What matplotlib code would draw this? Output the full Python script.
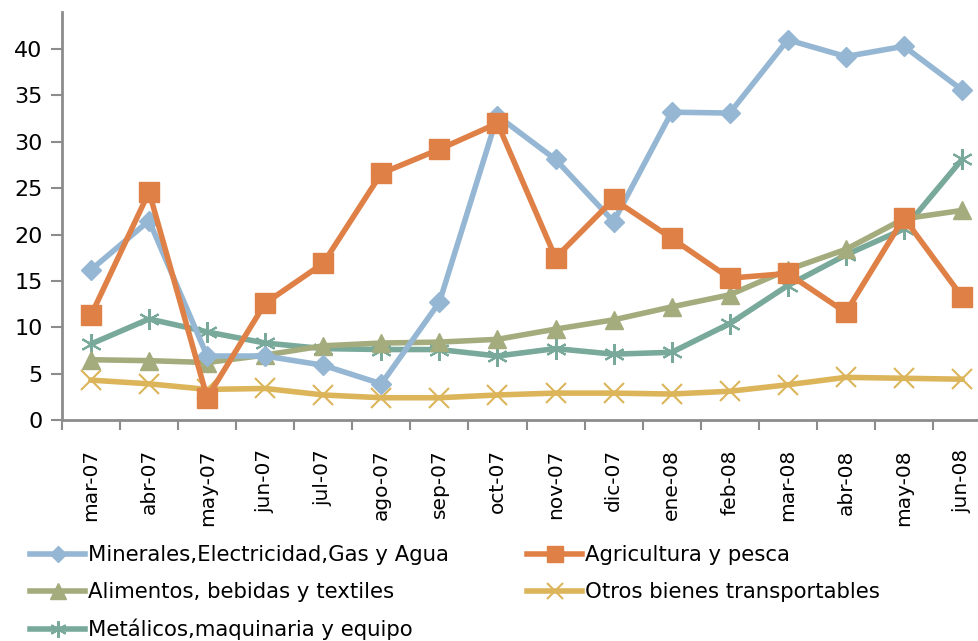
import matplotlib
matplotlib.use("Agg")
import matplotlib.pyplot as plt
from matplotlib.lines import Line2D

plt.rcParams['font.family'] = ['DejaVu Sans']

months = ["mar-07", "abr-07", "may-07", "jun-07", "jul-07", "ago-07", "sep-07",
          "oct-07", "nov-07", "dic-07", "ene-08", "feb-08", "mar-08", "abr-08",
          "may-08", "jun-08"]

minerales = [16.2, 21.5, 6.9, 6.9, 5.9, 3.9, 12.7, 32.8, 28.1, 21.4, 33.2, 33.1,
             41.0, 39.2, 40.3, 35.6]
agricultura = [11.3, 24.6, 2.4, 12.6, 16.9, 26.6, 29.2, 32.0, 17.5, 23.8, 19.6,
               15.3, 15.8, 11.6, 21.8, 13.3]
alimentos = [6.5, 6.4, 6.2, 7.0, 8.0, 8.3, 8.4, 8.7, 9.8, 10.8, 12.2, 13.5,
             16.2, 18.4, 21.7, 22.6]
otros = [4.3, 3.9, 3.3, 3.4, 2.7, 2.4, 2.4, 2.7, 2.9, 2.9, 2.8, 3.1, 3.8, 4.6,
         4.5, 4.4]
metalicos = [8.2, 10.9, 9.5, 8.3, 7.7, 7.6, 7.6, 6.9, 7.7, 7.1, 7.3, 10.4, 14.5,
             17.8, 20.6, 28.1]

labels = ["Minerales,Electricidad,Gas y Agua", "Agricultura y pesca",
          "Alimentos, bebidas y textiles", "Otros bienes transportables",
          "Metálicos,maquinaria y equipo"]
colors = ["#95B7D4", "#DF8047", "#A4AC7E", "#DCB45A", "#78A99A"]

W, H = 979, 641
fig = plt.figure(figsize=(W / 100, H / 100), dpi=100)
ax = fig.add_axes([62 / W, (H - 420) / H, 929 / W, 408 / H])

x = list(range(len(months)))
lw = 4.0
styles = [
    dict(marker="D", markersize=10),
    dict(marker="s", markersize=14),
    dict(marker="^", markersize=13),
    dict(marker="x", markersize=14, markeredgewidth=1.5),
    dict(marker=(6, 2, 0), markersize=15, markeredgewidth=1.5),
]
series = [minerales, agricultura, alimentos, otros, metalicos]
# draw back-to-front so the mineral line sits under the others where they cross
order = [4, 3, 2, 0, 1]
for i in order:
    ax.plot(x, series[i], color=colors[i], lw=lw, label=labels[i],
            markeredgecolor=colors[i], markerfacecolor=colors[i],
            solid_joinstyle="miter", **styles[i])

ax.set_xlim(-0.5, len(months) - 0.5)
ax.set_ylim(0, 44)
ax.set_yticks(range(0, 45, 5))
ax.tick_params(axis="y", labelsize=16, length=8, width=1.5, color="#8C8C8C",
               pad=6, labelcolor="black")

ax.set_xticks([i - 0.5 for i in range(len(months) + 1)])
ax.set_xticklabels([])
ax.set_xticks(x, minor=True)
ax.set_xticklabels(months, minor=True, rotation=90, fontsize=14.5)
ax.tick_params(axis="x", which="major", length=7, width=1.5, color="#8C8C8C")
ax.tick_params(axis="x", which="minor", length=0, pad=21)

for s in ["top", "right"]:
    ax.spines[s].set_visible(False)
for s in ["left", "bottom"]:
    ax.spines[s].set_color("#8C8C8C")
    ax.spines[s].set_linewidth(2)

legend_marker_sizes = [8, 12, 11, 11, 12]

def legend_handle(i):
    st = dict(styles[i])
    st["markersize"] = legend_marker_sizes[i]
    return Line2D([], [], color=colors[i], lw=lw, markeredgecolor=colors[i],
                  markerfacecolor=colors[i], **st)

leg_kw = dict(frameon=False, fontsize=15.3, handlelength=2.6, handletextpad=0.15,
              labelspacing=0.8, borderaxespad=0, borderpad=0)
fig.legend([legend_handle(0), legend_handle(2), legend_handle(4)],
           [labels[0], labels[2], labels[4]], loc="upper left",
           bbox_to_anchor=(30 / W, 1 - 545 / H), **leg_kw)
fig.legend([legend_handle(1), legend_handle(3)],
           [labels[1], labels[3]], loc="upper left",
           bbox_to_anchor=(527 / W, 1 - 545 / H), **leg_kw)

fig.savefig("out.png", dpi=100)
